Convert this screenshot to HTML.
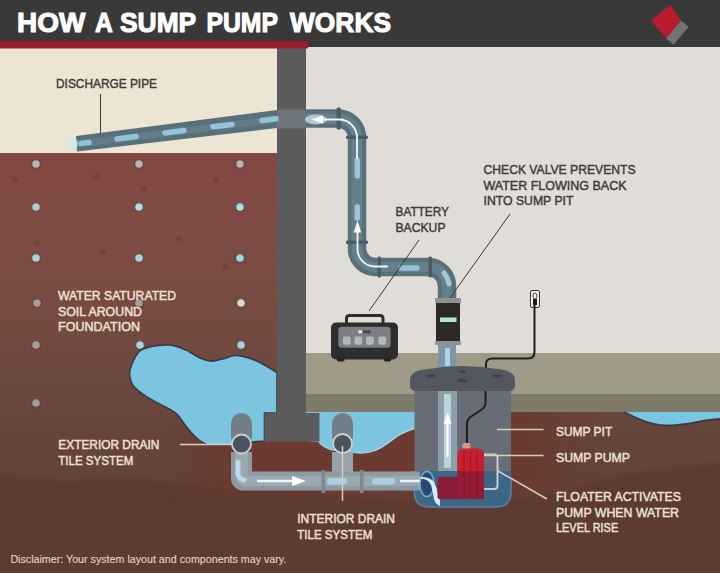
<!DOCTYPE html>
<html><head><meta charset="utf-8"><title>How a Sump Pump Works</title>
<style>
html,body{margin:0;padding:0;width:720px;height:573px;overflow:hidden;background:#e0ddd9}
svg{display:block}
text{font-family:"Liberation Sans",sans-serif}
</style></head><body>
<svg width="720" height="573" viewBox="0 0 720 573">
<defs>
<linearGradient id="soilg" x1="0" y1="153" x2="0" y2="573" gradientUnits="userSpaceOnUse">
<stop offset="0" stop-color="#834843"/>
<stop offset="0.2" stop-color="#7e4c45"/>
<stop offset="0.35" stop-color="#784b41"/>
<stop offset="0.52" stop-color="#6e4940"/>
<stop offset="0.66" stop-color="#65453b"/>
<stop offset="0.8" stop-color="#62433a"/>
<stop offset="1" stop-color="#5e4037"/>
</linearGradient>
<filter id="soft" x="-5%" y="-20%" width="110%" height="140%"><feGaussianBlur stdDeviation="2"/></filter>
<filter id="soft2"><feGaussianBlur stdDeviation="1"/></filter>
<linearGradient id="moundg" x1="170" y1="0" x2="600" y2="0" gradientUnits="userSpaceOnUse">
<stop offset="0" stop-color="#6b3a30" stop-opacity="0"/>
<stop offset="0.16" stop-color="#6b3a30" stop-opacity="1"/>
<stop offset="0.8" stop-color="#6b3a30" stop-opacity="1"/>
<stop offset="1" stop-color="#6b3a30" stop-opacity="0"/>
</linearGradient>
<linearGradient id="moundv" x1="0" y1="430" x2="0" y2="505" gradientUnits="userSpaceOnUse">
<stop offset="0" stop-color="#fff"/>
<stop offset="0.75" stop-color="#fff"/>
<stop offset="1" stop-color="#000"/>
</linearGradient>
<mask id="moundm"><rect x="0" y="400" width="720" height="120" fill="url(#moundv)"/></mask>
</defs>
<!-- interior wall background -->
<rect x="0" y="0" width="720" height="573" fill="#e0ddd9"/>
<!-- outside cream -->
<rect x="0" y="47" width="280" height="108" fill="#ede5d4"/>
<!-- soil -->
<path d="M0 153 H280 V412 H720 V573 H0 Z" fill="url(#soilg)"/>
<!-- floor -->
<rect x="305" y="353" width="415" height="41" fill="#a09b88"/>
<rect x="305" y="394" width="415" height="18" fill="#7f7b6b"/>

<!-- lower soil layer -->
<path d="M-10.0 476.0 C-3.3 476.3 16.7 477.2 30.0 478.0 C43.3 478.8 56.7 481.2 70.0 481.0 C83.3 480.8 96.7 477.2 110.0 477.0 C123.3 476.8 135.0 478.5 150.0 480.0 C165.0 481.5 183.3 484.3 200.0 486.0 C216.7 487.7 230.0 488.7 250.0 490.0 C270.0 491.3 291.7 492.3 320.0 494.0 C348.3 495.7 390.0 499.3 420.0 500.0 C450.0 500.7 476.7 499.3 500.0 498.0 C523.3 496.7 541.7 495.3 560.0 492.0 C578.3 488.7 593.3 481.7 610.0 478.0 C626.7 474.3 640.0 472.7 660.0 470.0 C680.0 467.3 718.3 463.3 730.0 462.0 V580 H-10 Z" fill="#5b3b32" filter="url(#soft)"/>
<!-- soil specks -->
<g fill="#5a2a25" opacity="0.4" filter="url(#soft2)">
<circle cx="15.6" cy="179" r="2.6"/>
<circle cx="97" cy="177" r="2.6"/>
<circle cx="144" cy="189" r="2.6"/>
<circle cx="216" cy="179" r="2.6"/>
<circle cx="179" cy="239.5" r="2.6"/>
<circle cx="103" cy="252" r="2.6"/>
<circle cx="225.7" cy="266.7" r="2.6"/>
<circle cx="37" cy="243" r="2.6"/>
</g>
<!-- soil dots -->
<g stroke="#4e3434" stroke-width="1.6" stroke-opacity="0.55">
<circle cx="36" cy="164" r="4.4" fill="#bdb2b1"/>
<circle cx="139" cy="164" r="4.4" fill="#bdb2b1"/>
<circle cx="240" cy="164" r="4.4" fill="#bdb2b1"/>
<circle cx="36" cy="207" r="4.4" fill="#b5c8cb"/>
<circle cx="139" cy="207" r="4.4" fill="#b3dbe2"/>
<circle cx="240" cy="207" r="4.4" fill="#b3dbe2"/>
<circle cx="36" cy="258" r="4.4" fill="#a9d3dc"/>
<circle cx="139" cy="258" r="4.4" fill="#a9d3dc"/>
<circle cx="240" cy="258" r="4.4" fill="#a9d3dc"/>
<circle cx="37" cy="303" r="4.4" fill="#a89c98"/>
<circle cx="139" cy="303" r="4.4" fill="#a89c98"/>
<circle cx="241" cy="303" r="4.4" fill="#d6d9d6"/>
<circle cx="36" cy="345" r="4.4" fill="#a89c98"/>
<circle cx="140" cy="345" r="4.4" fill="#a9d3dc"/>
<circle cx="241" cy="345" r="4.4" fill="#a9d3dc"/>
<circle cx="36" cy="403" r="4.4" fill="#a89c98"/>
</g>

<!-- reddish mound soil -->
<path d="M170 412 H600 V505 H170 Z" fill="url(#moundg)" mask="url(#moundm)"/>
<!-- water blob left -->
<path d="M206.4 444.6 C205.1 443.8 201.3 441.9 198.7 439.8 C196.1 437.7 193.6 435.1 191.0 432.2 C188.4 429.3 185.6 425.5 183.4 422.6 C181.2 419.7 179.8 417.1 177.6 414.9 C175.4 412.7 173.2 411.4 170.0 409.5 C166.8 407.6 162.6 405.7 158.4 403.4 C154.2 401.1 149.2 398.6 145.0 395.7 C140.8 392.8 136.0 389.4 133.4 386.0 C130.8 382.6 129.9 379.0 129.6 375.5 C129.3 372.0 129.9 369.0 131.5 365.0 C133.1 361.0 136.3 354.5 139.2 351.5 C142.1 348.5 145.0 348.2 148.8 347.2 C152.6 346.1 157.8 345.5 162.0 345.2 C166.2 344.9 169.8 344.7 174.0 345.6 C178.2 346.5 182.8 348.5 187.2 350.6 C191.6 352.7 196.4 356.4 200.6 358.2 C204.8 359.9 208.0 361.1 212.2 361.1 C216.4 361.1 221.4 359.1 225.6 358.2 C229.8 357.2 231.9 354.9 237.1 355.4 C242.3 355.9 250.2 358.1 256.8 361.0 C263.4 363.9 273.6 370.6 277.0 372.5 V413 H264.5 V441 L253 442 L231 444.7 Z" fill="#7bc5e1" stroke="#3a3a42" stroke-width="1.6"/>
<!-- water right under floor -->
<path d="M306 412 H416 V428 C410 430 403 432 396 437 C388 443 380 450 370 452 C362 454 355 453 350 452 L332 450 C326 448 321 445 319 442 L306 441 Z" fill="#7bc5e1"/>
<path d="M416 428 C410 430 403 432 396 437 C388 443 380 450 370 452 C362 454 355 453 350 452 L332 450 C326 448 321 445 319 442" fill="none" stroke="#a8dcef" stroke-width="1.2"/>
<path d="M624 412 C636 418 650 425 666 425.5 C685 426 700 420 720 419 V412 Z" fill="#7bc5e1"/>
<path d="M624 412 C636 418 650 425 666 425.5 C685 426 700 420 720 419" fill="none" stroke="#3a3a42" stroke-width="1.8"/>

<!-- wall + footing -->
<rect x="277" y="47" width="29" height="394" fill="#5b5b5c"/>
<rect x="264.5" y="413" width="55" height="28.5" fill="#5b5b5c"/>

<!-- drain pipes -->
<g>
<path d="M231 452 V478 A12 12 0 0 0 243 490.5 H416 V471.5 H252 V452 Z" fill="#8e9aa2"/>
<path d="M235 452 V476 A10 10 0 0 0 245 486 H416 V476 H248 V452 Z" fill="#9ba8b0"/>
<path d="M332 452 H353 V472 H332 Z" fill="#97a3ab"/>
<rect x="231" y="413" width="21" height="34" rx="10.5" fill="#737e86"/>
<rect x="332" y="413" width="21" height="34" rx="10.5" fill="#737e86"/>
<circle cx="241.5" cy="444" r="9.5" fill="#48555e" stroke="#c9d1d5" stroke-width="1.8"/>
<circle cx="342.5" cy="443.5" r="9.5" fill="#48555e" stroke="#c9d1d5" stroke-width="1.8"/>
<path d="M238 462 V474 A8 8 0 0 0 244 480" fill="none" stroke="#bcd9e6" stroke-width="5" stroke-linecap="round"/>
<rect x="321.5" y="470" width="3.5" height="23" fill="#7c878f"/>
<rect x="360" y="470" width="3.5" height="23" fill="#7c878f"/>
<rect x="327" y="478" width="20" height="6.5" rx="3" fill="#a9cfe0"/>
<rect x="372" y="478" width="23" height="6.5" rx="3" fill="#a9cfe0"/>
<path d="M257 481 H294" stroke="#eef6fa" stroke-width="2.5"/>
<path d="M306 481 L292 476 L292 486 Z" fill="#ffffff"/>
<path d="M400 481 H418" stroke="#eef6fa" stroke-width="2.5"/>
</g>

<!-- discharge pipe -->
<path d="M76 136 L277 110 L277 128 L77 151.5 Z" fill="#587079"/>
<path d="M78 140.5 L277 115.5 L277 122.5 L78 147.5 Z" fill="#637c87"/>
<ellipse cx="72" cy="144" rx="6" ry="6.5" fill="#cfe9ea" opacity="0.7"/>
<rect x="277" y="109.5" width="29" height="19" fill="#6d747a"/>
<g fill="none" stroke-linecap="butt">
<path d="M305 118.5 H338 A19 19 0 0 1 357 137.5 V249 A18.5 18.5 0 0 0 375.5 267 H428 A19 19 0 0 1 447 286 V300" stroke="#587079" stroke-width="18.5"/>
<path d="M305 118.5 H338 A19 19 0 0 1 357 137.5 V249 A18.5 18.5 0 0 0 375.5 267 H428 A19 19 0 0 1 447 286 V300" stroke="#66808b" stroke-width="10"/>
<path d="M447 345 V368" stroke="#7f97a5" stroke-width="18"/>
</g>
<!-- couplings -->
<g fill="#4c5a62">
<rect x="336.5" y="107.5" width="4.5" height="22" rx="1.5"/>
<rect x="346" y="135.5" width="22" height="3.5" rx="1.5"/>
<rect x="346" y="240.5" width="22" height="3.5" rx="1.5"/>
<rect x="377.5" y="256.5" width="3.5" height="21" rx="1.5"/>
<rect x="428.5" y="256.5" width="3.5" height="21" rx="1.5"/>
</g>
<!-- dashes on discharge pipe -->
<g stroke="#91c4d9" stroke-width="5.5" stroke-linecap="round" fill="none">
<path d="M81 143.6 L89 142.6"/>
<path d="M117 139 L136 136.6"/>
<path d="M165 132.9 L184 130.5"/>
<path d="M213 126.8 L232 124.4"/>
<path d="M262 120.5 L276 118.8"/>
<path d="M357.3 160 V176" stroke="#9ec4d6"/>
<path d="M357.3 207 V218" stroke="#9ec4d6"/>
<path d="M401 268 H417"/>
<path d="M444 273 Q448 278 449 284" stroke="#a3c6d6" stroke-width="5"/>
</g>
<g stroke="#a8d4ea" stroke-width="5" fill="none"><path d="M447.5 348 V366"/></g>
<!-- flow arrows on discharge -->
<ellipse cx="316" cy="119.5" rx="11" ry="5" fill="#c6e2ee" opacity="0.75"/>
<g stroke="#eef7fb" stroke-width="1.8" fill="none" stroke-linecap="round">
<path d="M322 119.5 H339 A18 18 0 0 1 357 137.5 V158"/>
<path d="M357.5 232 V249 A17.5 17.5 0 0 0 375 266.5 H387"/>
</g>
<path d="M311 119.5 L323 115.5 L323 123.5 Z" fill="#ffffff"/>
<path d="M357.5 220.5 L353.8 232.5 L361.2 232.5 Z" fill="#ffffff"/>

<!-- check valve -->
<rect x="435" y="298" width="26" height="5" fill="#8d9296"/>
<rect x="435" y="341" width="26" height="4" fill="#8d9296"/>
<rect x="436" y="303" width="24" height="38" fill="#2b2a29"/>
<rect x="440" y="317.5" width="16.5" height="4.5" fill="#b9e6d1"/>

<!-- battery backup -->
<path d="M346.5 323 V318.5 Q346.5 315.5 349.5 315.5 H380 Q383 315.5 383 318.5 V323" fill="none" stroke="#2e2d2e" stroke-width="3"/>
<rect x="331" y="322.5" width="67" height="37" rx="5" fill="#2e2d2e"/>
<rect x="338.3" y="326.7" width="52.3" height="21" rx="3.5" fill="#7b7f83"/>
<g fill="#b4b8ba">
<rect x="342.8" y="336.5" width="7.8" height="8.3" rx="2"/>
<rect x="354.4" y="336.5" width="7.8" height="8.3" rx="2"/>
<rect x="366.1" y="336.5" width="7.8" height="8.3" rx="2"/>
<rect x="378.3" y="336.5" width="7.8" height="8.3" rx="2"/>
</g>
<rect x="358.3" y="330.2" width="12.3" height="3.2" fill="#4a4d50"/>
<rect x="358.3" y="330.2" width="4" height="3.2" fill="#e6e8e9"/>
<rect x="337" y="358" width="7.5" height="3.5" rx="1.5" fill="#232223"/>
<rect x="384" y="358" width="7" height="3.5" rx="1.5" fill="#232223"/>

<!-- outlet -->
<rect x="530.5" y="290.5" width="9" height="17" rx="1.5" fill="#f3f1ee" stroke="#3a3838" stroke-width="1"/>
<ellipse cx="535" cy="296" rx="2" ry="3" fill="none" stroke="#444" stroke-width="1"/>
<rect x="533" y="299" width="4" height="6" fill="#1e1e1e"/>
<path d="M534.5 305 V352 Q534.5 358.5 528 358.5 H492 Q486 358.5 486 364 V368" fill="none" stroke="#1e1e1e" stroke-width="2"/>

<!-- sump pit -->
<path d="M414.5 390 H511 V471 H414.5 Z" fill="#686c76"/>
<path d="M414.5 471 H511 V492 Q511 507 496 507 H429.5 Q414.5 507 414.5 492 Z" fill="#3c6586"/>
<path d="M414.5 478 V492 Q414.5 507 429.5 507 H496 Q511 507 511 492 V478" fill="none" stroke="#5b8db5" stroke-width="1.5" opacity="0.8"/>
<path d="M410 380 Q410 371.5 424 369.5 Q462.5 362.5 501 369.5 Q515 371.5 515 380 V385 Q515 391 509 391 H416 Q410 391 410 385 Z" fill="#545660"/>
<g fill="#42444d">
<ellipse cx="431" cy="376" rx="5" ry="1.8"/>
<ellipse cx="462.5" cy="380.5" rx="5" ry="1.8"/>
<ellipse cx="497.5" cy="376" rx="5" ry="1.8"/>
<ellipse cx="462.5" cy="371.5" rx="4" ry="1.5"/>
</g>
<!-- pipe inside pit -->
<rect x="438" y="391" width="19" height="80" fill="#8e9ea9"/>
<rect x="444" y="394" width="7" height="74" fill="#bcd3df"/>
<path d="M447.5 457 V420" stroke="#ffffff" stroke-width="2"/>
<path d="M447.5 412 L443.5 424 L451.5 424 Z" fill="#ffffff"/>
<!-- cord inside pit -->
<path d="M485.5 391 V403 Q485.5 407 481 410 L470.5 417 Q467 419.5 467 424 V444" fill="none" stroke="#1e1e1e" stroke-width="2"/>
<!-- inlet swirl -->
<rect x="410" y="471.5" width="10" height="19" fill="#8e9aa2"/>
<rect x="410" y="476" width="10" height="10" fill="#9ba8b0"/>
<path d="M410 481 H421" stroke="#eef6fa" stroke-width="2.5"/>
<ellipse cx="427" cy="484" rx="7" ry="12.5" fill="#2c4a6e" stroke="#77b0d6" stroke-width="1.4"/>
<path d="M419 478.5 Q428 478 431 485 Q433 492 434 499 Q435 504 440 506 Q441 501 438.5 496 Q437 488 434 482 Q430 477 421 477 Z" fill="#cdeefa"/>
<!-- pump -->
<rect x="462.5" y="443" width="8" height="6" rx="2" fill="#d69a80"/>
<path d="M457.5 478 V456 Q457.5 448.5 465 448.5 H477 Q484 448.5 484 455 V478 Z" fill="#c71f2e"/>
<g stroke="#a3182a" stroke-width="1.2"><path d="M464 451 V471"/><path d="M470.5 451 V471"/><path d="M477 451 V471"/></g>
<rect x="437.5" y="477" width="46.5" height="22" rx="2" fill="#8b1b37"/>
<rect x="457.5" y="471" width="26.5" height="28" fill="#961b35"/>
<g stroke="#7a1730" stroke-width="1"><path d="M464 472 V497"/><path d="M470.5 472 V497"/><path d="M477 472 V497"/><path d="M448 479 V497"/></g>
<!-- float -->
<path d="M484 454.5 H494.5 Q497.5 454.5 497.5 457.5 V485.5 Q497.5 489 494 489 H484" fill="none" stroke="#c5ccd3" stroke-width="2"/>

<!-- header -->
<rect x="0" y="0" width="720" height="47" fill="#3a3939"/>
<rect x="0" y="41" width="308" height="7.5" fill="#9c1c2f"/>
<g font-size="28" font-weight="bold" fill="#ffffff" stroke="#ffffff" stroke-width="1.1">
<text x="17" y="32" textLength="68.3" lengthAdjust="spacingAndGlyphs">HOW</text>
<text x="95" y="32" textLength="17.8" lengthAdjust="spacingAndGlyphs">A</text>
<text x="120" y="32" textLength="76.2" lengthAdjust="spacingAndGlyphs">SUMP</text>
<text x="206.4" y="32" textLength="71.5" lengthAdjust="spacingAndGlyphs">PUMP</text>
<text x="290" y="32" textLength="101" lengthAdjust="spacingAndGlyphs">WORKS</text>
</g>
<!-- logo -->
<polygon points="670,4.4 681,20.5 666,38.4 651.3,21" fill="#b81a2e"/>
<polygon points="681,20.5 688.6,26.9 673.6,44.8 666,38.4" fill="#747174"/>

<!-- labels -->
<g font-size="13.5" fill="#3e3a37" stroke="#3e3a37" stroke-width="0.45">
<text x="56" y="88" textLength="101" lengthAdjust="spacingAndGlyphs">DISCHARGE PIPE</text>
<text x="395.5" y="216" textLength="53.5" lengthAdjust="spacingAndGlyphs">BATTERY</text>
<text x="395.5" y="231.5" textLength="50" lengthAdjust="spacingAndGlyphs">BACKUP</text>
<text x="483.5" y="174" textLength="152" lengthAdjust="spacingAndGlyphs">CHECK VALVE PREVENTS</text>
<text x="483.5" y="189.7" textLength="143" lengthAdjust="spacingAndGlyphs">WATER FLOWING BACK</text>
<text x="483.5" y="205.3" textLength="90" lengthAdjust="spacingAndGlyphs">INTO SUMP PIT</text>
</g>
<g font-size="13.5" fill="#ede0d2" stroke="#ede0d2" stroke-width="0.5">
<text x="58" y="299.6" textLength="118" lengthAdjust="spacingAndGlyphs">WATER SATURATED</text>
<text x="58" y="315.5" textLength="84" lengthAdjust="spacingAndGlyphs">SOIL AROUND</text>
<text x="58" y="330.8" textLength="82" lengthAdjust="spacingAndGlyphs">FOUNDATION</text>
<text x="58.3" y="448.7" textLength="101" lengthAdjust="spacingAndGlyphs">EXTERIOR DRAIN</text>
<text x="58.3" y="465" textLength="75" lengthAdjust="spacingAndGlyphs">TILE SYSTEM</text>
<text x="297.3" y="522.7" textLength="97.7" lengthAdjust="spacingAndGlyphs">INTERIOR DRAIN</text>
<text x="297.3" y="538.5" textLength="75" lengthAdjust="spacingAndGlyphs">TILE SYSTEM</text>
<text x="556" y="436.1" textLength="56.2" lengthAdjust="spacingAndGlyphs">SUMP PIT</text>
<text x="556" y="461.7" textLength="74" lengthAdjust="spacingAndGlyphs">SUMP PUMP</text>
<text x="556" y="501.2" textLength="125" lengthAdjust="spacingAndGlyphs">FLOATER ACTIVATES</text>
<text x="556" y="516.8" textLength="123" lengthAdjust="spacingAndGlyphs">PUMP WHEN WATER</text>
<text x="556" y="532.3" textLength="62.2" lengthAdjust="spacingAndGlyphs">LEVEL RISE</text>
<text x="10.4" y="563" font-size="10" stroke-width="0.1" fill="#e2d6ca" stroke="#e2d6ca" textLength="276" lengthAdjust="spacingAndGlyphs">Disclaimer: Your system layout and components may vary.</text>
</g>
<!-- leader lines -->
<g stroke="#3a3838" stroke-width="1" fill="none">
<path d="M100.5 94 V133"/>
<path d="M419 240 L369 311"/>
<path d="M510 214 L450 298"/>
</g>
<g stroke="#d9cbbd" stroke-width="1.5" fill="none">
<path d="M180 444.5 H232"/>
<path d="M342.5 446 V501"/>
<path d="M497 429.5 H543.5"/>
<path d="M484 455.5 H543.5"/>
<path d="M498 471 L547 499"/>
</g>
</svg>
</body></html>
